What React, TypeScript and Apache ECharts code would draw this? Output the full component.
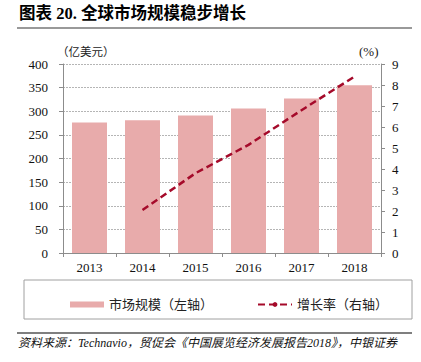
import React, { useEffect, useRef } from "react";
import * as echarts from "echarts";

const years = ["2013", "2014", "2015", "2016", "2017", "2018"];
const marketSize = [276, 281, 291, 306, 327, 355];
const growthRate = [null, 2.05, 3.8, 5.15, 6.8, 8.4];
const leftTicks = { min: 0, max: 400, interval: 50 };
const rightTicks = { min: 0, max: 9, interval: 1 };

const SERIF = "'Liberation Serif', 'Noto Sans CJK SC', serif";
const BAR_COLOR = "#E8ABAB";
const LINE_COLOR = "#A50A2A";
const AXIS_COLOR = "#8c8c8c";

export default function App() {
  const ref = useRef<HTMLDivElement>(null);
  useEffect(() => {
    document.body.style.margin = "0";
    const chart = echarts.init(ref.current!, null, { renderer: "svg" });
    chart.setOption({
      animation: false,
      grid: { left: 63, right: 40, top: 64, bottom: 109 },
      legend: {
        left: 65,
        top: 293,
        itemWidth: 34,
        itemHeight: 6,
        itemGap: 44,
        textStyle: { fontFamily: SERIF, fontSize: 13, color: "#222" },
        data: [
          { name: "市场规模（左轴）", icon: "rect" },
          { name: "增长率（右轴）" },
        ],
      },
      xAxis: {
        type: "category",
        data: years,
        axisLine: { lineStyle: { color: AXIS_COLOR } },
        axisTick: { show: true, length: 4, lineStyle: { color: AXIS_COLOR } },
        axisLabel: { fontFamily: SERIF, fontSize: 13, color: "#111", margin: 8 },
      },
      yAxis: [
        {
          type: "value",
          ...leftTicks,
          axisLine: { show: true, lineStyle: { color: AXIS_COLOR } },
          axisTick: { show: true, length: 4, lineStyle: { color: AXIS_COLOR } },
          axisLabel: { fontFamily: SERIF, fontSize: 13, color: "#111", margin: 15 },
          splitLine: { lineStyle: { color: "#b5b5b5", type: [2, 1] } },
        },
        {
          type: "value",
          position: "right",
          ...rightTicks,
          axisLine: { show: true, lineStyle: { color: AXIS_COLOR } },
          axisTick: { show: true, length: 4, lineStyle: { color: AXIS_COLOR } },
          axisLabel: { fontFamily: SERIF, fontSize: 13, color: "#111", margin: 11 },
          splitLine: { show: false },
        },
      ],
      series: [
        {
          name: "市场规模（左轴）",
          type: "bar",
          data: marketSize,
          barWidth: "66%",
          itemStyle: { color: BAR_COLOR },
        },
        {
          name: "增长率（右轴）",
          type: "line",
          yAxisIndex: 1,
          data: growthRate,
          symbol: "none",
          lineStyle: { color: LINE_COLOR, width: 2.5, type: [7, 4] },
          itemStyle: { color: LINE_COLOR },
        },
      ],
      graphic: [
        {
          type: "text",
          left: 19,
          top: 5,
          style: {
            text: "图表 20. 全球市场规模稳步增长",
            font: `bold 16.5px ${SERIF}`,
            fill: "#000",
          },
        },
        {
          type: "line",
          shape: { x1: 17, y1: 28, x2: 412, y2: 28 },
          style: { stroke: "#777", lineWidth: 1.5 },
        },
        {
          type: "text",
          left: 57,
          top: 46,
          style: { text: "（亿美元）", font: `11.5px ${SERIF}`, fill: "#222" },
        },
        {
          type: "text",
          left: 359,
          top: 45,
          style: { text: "(%)", font: `13px ${SERIF}`, fill: "#222" },
        },
        {
          type: "rect",
          shape: { x: 24, y: 280, width: 388, height: 39 },
          style: { fill: "none", stroke: "#a0a0a0", lineWidth: 1 },
        },
        {
          type: "line",
          shape: { x1: 17, y1: 333, x2: 412, y2: 333 },
          style: { stroke: "#555", lineWidth: 1.5 },
        },
        {
          type: "text",
          left: 18,
          top: 337,
          style: {
            text: "资料来源：Technavio，贸促会《中国展览经济发展报告2018》，中银证券",
            font: `italic 12px ${SERIF}`,
            fill: "#111",
          },
        },
      ],
    });
    return () => chart.dispose();
  }, []);
  return <div ref={ref} style={{ width: 421, height: 362 }} />;
}
